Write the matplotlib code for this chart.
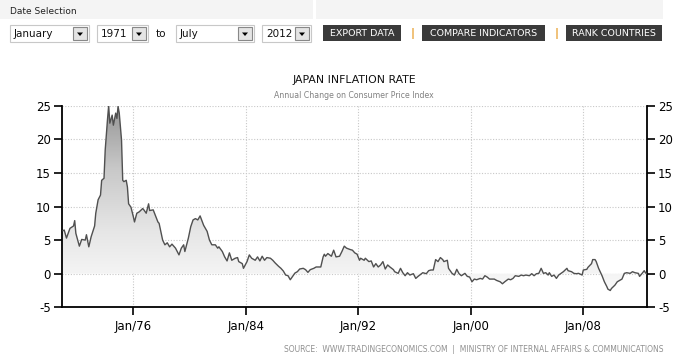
import numpy as np
import pandas as pd
import matplotlib
matplotlib.use("Agg")
import matplotlib.pyplot as plt
import matplotlib.dates as mdates
from matplotlib.patches import Rectangle, Polygon
from matplotlib.colors import LinearSegmentedColormap

plt.rcParams["axes.unicode_minus"] = False

months = [
    "1971-01","1971-02","1971-04","1971-07","1971-10","1971-11","1971-12","1972-03","1972-05","1972-08",
    "1972-09","1972-11","1973-01","1973-04","1973-05","1973-07","1973-09","1973-10","1973-12","1974-01",
    "1974-03","1974-04","1974-05","1974-07","1974-08","1974-10","1974-11","1974-12","1975-01","1975-03",
    "1975-04","1975-05","1975-07","1975-08","1975-09","1975-11","1976-01","1976-02","1976-04","1976-06",
    "1976-09","1976-10","1976-12","1977-02","1977-03","1977-06","1977-08","1977-10","1977-11","1978-02",
    "1978-04","1978-06","1978-08","1978-10","1979-01","1979-04","1979-06","1979-08","1979-09","1979-12",
    "1980-02","1980-04","1980-06","1980-08","1980-10","1980-12","1981-01","1981-04","1981-06","1981-08",
    "1981-11","1982-01","1982-02","1982-05","1982-07","1982-09","1982-11","1983-01","1983-04","1983-06",
    "1983-07","1983-10","1983-11","1984-02","1984-04","1984-06","1984-09","1984-11","1985-01","1985-03",
    "1985-05","1985-07","1985-10","1985-12","1986-02","1986-05","1986-07","1986-09","1986-11","1987-01",
    "1987-03","1987-05","1987-07","1987-09","1987-11","1988-02","1988-04","1988-06","1988-08","1988-11",
    "1989-01","1989-03","1989-05","1989-07","1989-08","1989-09","1989-11","1990-02","1990-04","1990-06",
    "1990-09","1990-11","1991-01","1991-03","1991-06","1991-08","1991-10","1991-12","1992-02","1992-03",
    "1992-06","1992-07","1992-10","1992-12","1993-02","1993-04","1993-06","1993-08","1993-10","1993-12",
    "1994-02","1994-04","1994-07","1994-08","1994-11","1995-01","1995-03","1995-05","1995-07","1995-09",
    "1995-12","1996-02","1996-04","1996-07","1996-08","1996-11","1997-01","1997-03","1997-05","1997-07",
    "1997-09","1997-11","1998-01","1998-02","1998-05","1998-06","1998-09","1998-11","1999-01","1999-03",
    "1999-05","1999-08","1999-10","1999-12","2000-02","2000-04","2000-06","2000-09","2000-11","2001-01",
    "2001-03","2001-05","2001-07","2001-09","2001-11","2002-02","2002-04","2002-06","2002-09","2002-11",
    "2003-01","2003-03","2003-06","2003-08","2003-10","2003-12","2004-03","2004-05","2004-07","2004-09",
    "2004-11","2005-01","2005-03","2005-05","2005-07","2005-08","2005-10","2005-12","2006-02","2006-04",
    "2006-06","2006-08","2006-11","2006-12","2007-03","2007-05","2007-07","2007-09","2007-12","2008-01",
    "2008-04","2008-05","2008-08","2008-09","2008-11","2008-12","2009-02","2009-04","2009-05","2009-07",
    "2009-09","2009-10","2009-12","2010-01","2010-04","2010-06","2010-08","2010-10","2010-12","2011-02",
    "2011-05","2011-07","2011-09","2011-12","2012-01","2012-03","2012-05","2012-06","2012-07",
]
inflation = [
    6.4, 6.5, 5.3, 6.75, 7.1, 7.9, 6.0, 4.1, 5.1, 5.0,
    5.8, 4.0, 5.5, 7.1, 9.0, 11.0, 11.7, 13.9, 14.2, 18.4,
    22.9, 25.0, 22.4, 23.6, 22.1, 23.9, 23.1, 24.9, 23.9, 19.9,
    13.9, 13.7, 13.9, 12.9, 10.4, 9.9, 8.5, 7.7, 9.0, 9.2,
    9.7, 9.5, 9.0, 10.4, 9.4, 9.5, 8.6, 7.7, 7.5, 5.0,
    4.3, 4.6, 4.0, 4.4, 3.8, 2.8, 3.8, 4.3, 3.3, 5.3,
    7.0, 8.0, 8.2, 8.0, 8.6, 7.7, 7.2, 6.3, 5.0, 4.3,
    4.3, 3.8, 4.0, 3.3, 2.5, 1.9, 3.1, 2.0, 2.3, 2.4,
    1.8, 1.5, 0.8, 1.8, 2.8, 2.3, 2.0, 2.5, 1.9, 2.6,
    2.0, 2.4, 2.3, 2.0, 1.6, 1.1, 0.8, 0.4, -0.2, -0.3,
    -0.9, -0.4, 0.1, 0.3, 0.7, 0.8, 0.6, 0.2, 0.6, 0.8,
    1.0, 1.0, 1.0, 2.5, 2.9, 2.6, 3.0, 2.6, 3.5, 2.5,
    2.6, 3.3, 4.1, 3.8, 3.6, 3.5, 3.1, 2.9, 2.0, 2.3,
    2.0, 2.3, 1.8, 1.9, 1.0, 1.5, 1.0, 1.3, 1.8, 0.7,
    1.3, 1.0, 0.6, 0.3, 0.05, 0.8, 0.15, -0.3, 0.15, -0.2,
    0.0, -0.7, -0.4, 0.0, 0.15, 0.0, 0.45, 0.55, 0.55, 2.1,
    1.8, 2.4, 2.1, 1.8, 2.0, 0.8, 0.05, -0.2, 0.65, 0.0,
    -0.3, 0.05, -0.4, -0.5, -1.2, -0.8, -0.9, -0.7, -0.8, -0.3,
    -0.5, -0.8, -0.8, -0.8, -1.0, -1.2, -1.5, -1.2, -0.8, -0.9,
    -0.7, -0.3, -0.4, -0.2, -0.3, -0.2, -0.3, 0.0, -0.3, 0.0,
    0.05, 0.8, 0.05, 0.15, -0.2, 0.15, -0.4, -0.2, -0.7, -0.2,
    0.05, 0.3, 0.8, 0.45, 0.3, 0.05, 0.0, 0.05, -0.2, 0.55,
    0.65, 0.95, 1.5, 2.1, 2.1, 1.8, 0.8, 0.05, -0.3, -1.2,
    -1.9, -2.3, -2.5, -2.2, -1.7, -1.2, -1.0, -0.8, 0.05, 0.15,
    0.05, 0.3, 0.15, 0.05, -0.4, 0.0, 0.45, 0.15, 0.0,
]
yticks = [-5, 0, 5, 10, 15, 20, 25]
xtick_years = [1976, 1984, 1992, 2000, 2008]

W, H = 694, 362
fig = plt.figure(figsize=(W / 100, H / 100), dpi=100)
fig.patch.set_facecolor("white")

def fx(x):
    return x / W

def fy(y):
    return 1 - y / H

def frect(x0, y0, x1, y1, **kw):
    fig.patches.append(Rectangle((fx(x0), fy(y1)), fx(x1) - fx(x0), fy(y0) - fy(y1),
                                 transform=fig.transFigure, **kw))

# ---- top control bar ----
frect(0, 0, 313, 19, facecolor="#f4f4f4", edgecolor="none")
frect(316, 0, 663, 19, facecolor="#f4f4f4", edgecolor="none")
fig.text(fx(10), fy(11), "Date Selection", fontsize=6.5, color="#222", va="center", ha="left")

def dropdown(x0, x1, label):
    frect(x0, 25, x1, 42, facecolor="white", edgecolor="#c8c8c8", linewidth=0.8)
    frect(x1 - 16, 27, x1 - 2, 40, facecolor="#e4e4e4", edgecolor="#888", linewidth=0.8)
    cx, cy = x1 - 9, 34
    fig.patches.append(Polygon([(fx(cx - 3), fy(cy - 1.5)), (fx(cx + 3), fy(cy - 1.5)), (fx(cx), fy(cy + 2))],
                               closed=True, facecolor="black", edgecolor="none", transform=fig.transFigure))
    fig.text(fx(x0 + 4), fy(34), label, fontsize=7.5, color="#111", va="center", ha="left")

dropdown(10, 89, "January")
dropdown(97, 148, "1971")
fig.text(fx(156), fy(34), "to", fontsize=7.5, color="#111", va="center", ha="left")
dropdown(176, 254, "July")
dropdown(262, 311, "2012")

def button(x0, x1, label):
    frect(x0, 25, x1, 41, facecolor="#3a3a3a", edgecolor="none")
    fig.text(fx((x0 + x1) / 2), fy(33.5), label, fontsize=6.8, color="white", va="center", ha="center")

button(323, 401, "EXPORT DATA")
fig.text(fx(413), fy(33.5), "|", fontsize=8, color="#e8a030", va="center", ha="center", fontweight="bold")
button(422, 545, "COMPARE INDICATORS")
fig.text(fx(557), fy(33.5), "|", fontsize=8, color="#e8a030", va="center", ha="center", fontweight="bold")
button(566, 662, "RANK COUNTRIES")

# ---- titles ----
fig.text(fx(354), fy(80), "JAPAN INFLATION RATE", fontsize=7.8, color="#111", ha="center", va="center")
fig.text(fx(354), fy(95), "Annual Change on Consumer Price Index", fontsize=5.6, color="#808080",
         ha="center", va="center")
fig.text(fx(663), fy(349), "SOURCE:  WWW.TRADINGECONOMICS.COM  |  MINISTRY OF INTERNAL AFFAIRS & COMMUNICATIONS",
         fontsize=5.5, color="#909090", ha="right", va="center")

# ---- chart ----
ax = fig.add_axes([fx(62), fy(307.3), fx(647) - fx(62), fy(105.7) - fy(307.3)])
dates = pd.to_datetime(months, format="%Y-%m")
xnum = mdates.date2num(dates)
vals = np.array(inflation)

xlim = (mdates.date2num(pd.Timestamp("1970-12-06")), mdates.date2num(pd.Timestamp("2012-07-12")))
ax.set_xlim(*xlim)
ax.set_ylim(-5, 25)

poly = ax.fill_between(xnum, vals, 0, facecolor="none", edgecolor="none")
cmap = LinearSegmentedColormap.from_list("g", ["#fbfbfb", "#e6e6e6", "#c8c8c8", "#959595"])
grad = np.linspace(0, 1, 256).reshape(-1, 1)
im = ax.imshow(grad, extent=[xlim[0], xlim[1], -3, 25], origin="lower", aspect="auto",
               cmap=cmap, zorder=1, interpolation="bilinear")
im.set_clip_path(poly.get_paths()[0], transform=ax.transData)
ax.set_xlim(*xlim)
ax.set_ylim(-5, 25)

ax.plot(xnum, vals, color="#505050", linewidth=1.0, zorder=3)

ax.set_yticks(yticks)
ax.set_xticks(mdates.date2num([pd.Timestamp(f"{y}-01-01") for y in xtick_years]))
ax.xaxis.set_major_formatter(mdates.DateFormatter("%b/%y"))
ax.grid(True, color="#c8c8c8", linestyle=(0, (1, 1.5)), linewidth=0.8, zorder=0)
ax.set_axisbelow(True)

ax.spines["top"].set_visible(False)
for s in ("left", "right", "bottom"):
    ax.spines[s].set_linewidth(1.3)
    ax.spines[s].set_color("black")
ax.tick_params(axis="y", which="major", direction="out", length=6, width=1.2, left=True, right=True,
               labelleft=True, labelright=True, labelsize=8.5, pad=2, colors="black")
ax.tick_params(axis="x", which="major", direction="out", length=6, width=1.2, labelsize=8.5, pad=3)

fig.savefig("out.png", dpi=100)
